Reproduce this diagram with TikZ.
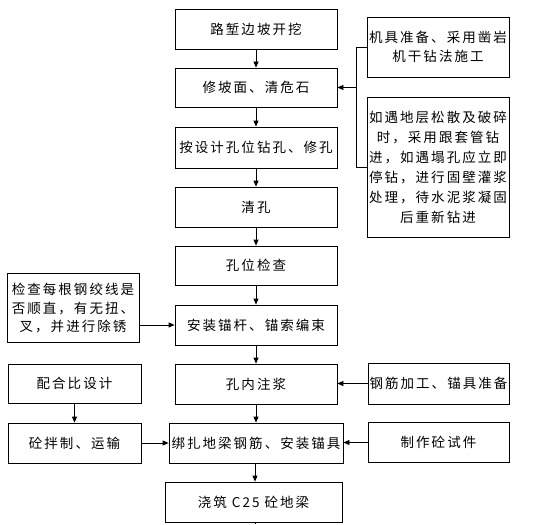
\documentclass[tikz,border=0pt]{standalone}
\usepackage{fontspec}
\newfontfamily\cjk[LetterSpace=15]{Noto Sans CJK SC}
\usetikzlibrary{arrows.meta}
\begin{document}
\begin{tikzpicture}[x=1pt,y=-1pt,
  box/.style={draw=black,line width=0.8pt,inner sep=0pt,align=center,
    font=\cjk\fontsize{13.5}{19}\selectfont},
  arr/.style={line width=0.8pt,-{Triangle[length=6pt,width=5pt]}},
  ln/.style={line width=0.8pt}]
\useasboundingbox (0,0) rectangle (534,524);
% main column
\node[box,minimum width=162pt,minimum height=40pt] (b1) at (256,29) {路堑边坡开挖};
\node[box,minimum width=162pt,minimum height=39pt] (b2) at (256,87.5) {修坡面、清危石};
\node[box,minimum width=162pt,minimum height=41pt] (b3) at (256,147.5) {按设计孔位钻孔、修孔};
\node[box,minimum width=162pt,minimum height=40pt] (b4) at (256,207) {清孔};
\node[box,minimum width=162pt,minimum height=39pt] (b5) at (256,265.5) {孔位检查};
\node[box,minimum width=162pt,minimum height=40pt] (b6) at (256,325) {安装锚杆、锚索编束};
\node[box,minimum width=162pt,minimum height=40pt] (b7) at (256,384) {孔内注浆};
\node[box,minimum width=174pt,minimum height=40pt] (b8) at (256,443) {绑扎地梁钢筋、安装锚具};
\node[box,minimum width=177pt,minimum height=40pt] (b9) at (253.5,502) {浇筑 C25 砼地梁};
\coordinate (bend) at (255,524);
% right column
\node[box,minimum width=142pt,minimum height=60pt] (ra) at (438,47) {机具准备、采用凿岩\\机干钻法施工};
\node[box,minimum width=142pt,minimum height=140pt,font=\cjk\fontsize{13.5}{20}\selectfont] (rb) at (438,167) {如遇地层松散及破碎\\时，采用跟套管钻\\进，如遇塌孔应立即\\停钻，进行固壁灌浆\\处理，待水泥浆凝固\\后重新钻进};
\node[box,minimum width=141pt,minimum height=41pt] (rc) at (438.5,383.5) {钢筋加工、锚具准备};
\node[box,minimum width=141pt,minimum height=40pt] (rd) at (438.5,442.5) {制作砼试件};
% left column
\node[box,minimum width=132pt,minimum height=69pt,font=\cjk\fontsize{13.5}{18.5}\selectfont] (la) at (73,308) {检查每根钢绞线是\\否顺直，有无扭、\\叉，并进行除锈};
\node[box,minimum width=133pt,minimum height=39pt] (lb) at (74.5,383.5) {配合比设计};
\node[box,minimum width=133pt,minimum height=40pt] (lc) at (74.5,443) {砼拌制、运输};
% bracket
\coordinate (jt) at (356,47);
\coordinate (jb) at (356,167);
\coordinate (jm) at (356,87.5);
\draw[ln] (ra.west) -- (jt) -- (jb) -- (rb.west);
\draw[arr] (jm) -- (b2.east);
% main arrows
\draw[arr] (b1) -- (b2);
\draw[arr] (b2) -- (b3);
\draw[arr] (b3) -- (b4);
\draw[arr] (b4) -- (b5);
\draw[arr] (b5) -- (b6);
\draw[arr] (b6) -- (b7);
\draw[arr] (b7) -- (b8);
\draw[arr] (b8.south -| bend) -- (b9.north -| bend);
\draw[ln] (b9.south -| bend) -- (bend);
% side arrows
\draw[arr] (rc.west) -- (rc.west -| b7.east);
\draw[arr] (rd.west) -- (rd.west -| b8.east);
\draw[arr] (la.east |- b6.west) -- (b6.west);
\draw[arr] (lb) -- (lc);
\draw[arr] (lc.east) -- (lc.east -| b8.west);
\end{tikzpicture}
\end{document}
